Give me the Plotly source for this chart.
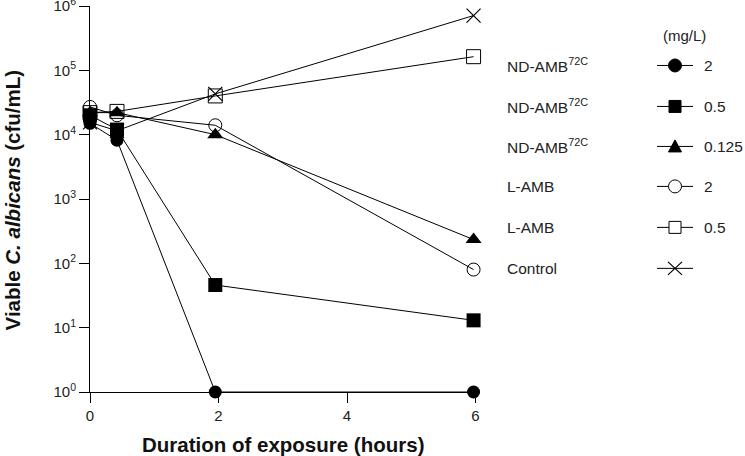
import plotly.graph_objects as go

# ---------------- data ----------------
times = [0, 0.42, 1.95, 5.97]
nd_2 = [1.5e4, 8.2e3, 1, 1]
nd_05 = [2.0e4, 1.2e4, 46, 13]
nd_0125 = [2.2e4, 2.2e4, 1.0e4, 234]
lamb_2 = [2.7e4, 2.0e4, 1.4e4, 80]
lamb_05 = [2.2e4, 2.3e4, 4.0e4, 1.63e5]
control = [1.55e4, 1.15e4, 4.3e4, 7.1e5]

legend_names = ["ND-AMB<sup>72C</sup>", "ND-AMB<sup>72C</sup>", "ND-AMB<sup>72C</sup>",
                "L-AMB", "L-AMB", "Control"]
legend_doses = ["2", "0.5", "0.125", "2", "0.5", ""]

ytick_vals = [1, 10, 100, 1e3, 1e4, 1e5, 1e6]
ytick_text = ["10<sup>0</sup>", "10<sup>1</sup>", "10<sup>2</sup>", "10<sup>3</sup>",
              "10<sup>4</sup>", "10<sup>5</sup>", "10<sup>6</sup>"]
xtick_vals = [0, 2, 4, 6]

# ---------------- figure ----------------
W, H = 745, 456
L, R, T, B = 90, 265, 5.5, 64.3
FONT = "Liberation Sans, Arial, sans-serif"

series = [
    (control, dict(symbol="x-thin", size=14, line=dict(width=1.2, color="black"))),
    (lamb_05, dict(symbol="square-open", size=14, line=dict(width=1, color="black"))),
    (lamb_2, dict(symbol="circle-open", size=13, line=dict(width=1, color="black"))),
    (nd_0125, dict(symbol="triangle-up", size=14, line=dict(width=0))),
    (nd_05, dict(symbol="square", size=14, line=dict(width=0))),
    (nd_2, dict(symbol="circle", size=13, line=dict(width=0))),
]

fig = go.Figure()
for vals, mk in series:
    m = dict(color="black")
    m.update(mk)
    fig.add_trace(go.Scatter(x=times, y=vals, mode="lines+markers",
                             line=dict(color="black", width=1),
                             marker=m, cliponaxis=False, showlegend=False))

fig.update_layout(
    template="none",
    width=W, height=H,
    margin=dict(l=L, r=R, t=T, b=B, autoexpand=False),
    paper_bgcolor="white", plot_bgcolor="white",
    font=dict(family=FONT, size=14, color="#222"),
    xaxis=dict(range=[0, 6.07], tickvals=xtick_vals, showgrid=False, zeroline=False,
               automargin=False, ticklabeloverflow="allow",
               showline=True, linecolor="black", linewidth=1,
               ticks="outside", ticklen=10, tickcolor="black", tickwidth=1,
               tickfont=dict(size=15, family=FONT, color="#222")),
    yaxis=dict(type="log", range=[0, 6], tickvals=ytick_vals, ticktext=ytick_text,
               automargin=False, ticklabeloverflow="allow",
               showgrid=False, zeroline=False, showline=True, linecolor="black",
               linewidth=1, ticks="outside", ticklen=10, tickcolor="black", tickwidth=1,
               tickfont=dict(size=15, family=FONT, color="#222")),
)

pw = W - L - R
ph = H - T - B


def px(x):
    return (x - L) / pw


def py(y):
    return (H - B - y) / ph


annotations = [
    dict(text="<b>Duration of exposure (hours)</b>", x=px(283), y=py(444),
         xref="paper", yref="paper", showarrow=False, font=dict(size=20.5, family=FONT, color="#111"),
         xanchor="center", yanchor="middle"),
    dict(text="<b>Viable <i>C. albicans</i> (cfu/mL)</b>", x=px(12), y=py(200),
         xref="paper", yref="paper", showarrow=False, textangle=-90,
         font=dict(size=20.5, family=FONT, color="#111"), xanchor="center", yanchor="middle"),
    dict(text="(mg/L)", x=px(684), y=py(35), xref="paper", yref="paper", showarrow=False,
         font=dict(size=15, family=FONT, color="#222"), xanchor="center", yanchor="middle"),
]

rows_y = [65, 106, 146, 186, 227, 268]
shapes = []
cx = 675
for i, (name, dose, yy) in enumerate(zip(legend_names, legend_doses, rows_y)):
    annotations.append(dict(text=name, x=px(505), y=py(yy), xref="paper", yref="paper",
                            showarrow=False, xanchor="left", yanchor="middle",
                            font=dict(size=15.5, family=FONT, color="#222")))
    if dose:
        annotations.append(dict(text=dose, x=px(702), y=py(yy), xref="paper", yref="paper",
                                showarrow=False, xanchor="left", yanchor="middle",
                                font=dict(size=15.5, family=FONT, color="#222")))
    shapes.append(dict(type="line", xref="paper", yref="paper", x0=px(657), x1=px(693),
                       y0=py(yy), y1=py(yy), line=dict(color="black", width=1)))

# legend sample markers
r = 6.5
shapes.append(dict(type="circle", xref="paper", yref="paper", x0=px(cx - r), x1=px(cx + r),
                   y0=py(rows_y[0] - r), y1=py(rows_y[0] + r), fillcolor="black",
                   line=dict(color="black", width=1)))
s = 6
shapes.append(dict(type="rect", xref="paper", yref="paper", x0=px(cx - s), x1=px(cx + s),
                   y0=py(rows_y[1] - s), y1=py(rows_y[1] + s), fillcolor="black",
                   line=dict(color="black", width=1)))
yt = rows_y[2]
shapes.append(dict(type="path", xref="paper", yref="paper",
                   path=f"M {px(cx-6.5)} {py(yt+5.5)} L {px(cx+6.5)} {py(yt+5.5)} L {px(cx)} {py(yt-6.5)} Z",
                   fillcolor="black", line=dict(color="black", width=1)))
shapes.append(dict(type="circle", xref="paper", yref="paper", x0=px(cx - r), x1=px(cx + r),
                   y0=py(rows_y[3] - r), y1=py(rows_y[3] + r), fillcolor="white",
                   line=dict(color="black", width=1)))
shapes.append(dict(type="rect", xref="paper", yref="paper", x0=px(cx - s), x1=px(cx + s),
                   y0=py(rows_y[4] - s), y1=py(rows_y[4] + s), fillcolor="white",
                   line=dict(color="black", width=1)))
yx = rows_y[5]
shapes.append(dict(type="path", xref="paper", yref="paper",
                   path=(f"M {px(cx-7)} {py(yx-6.5)} L {px(cx+7)} {py(yx+6.5)} "
                         f"M {px(cx-7)} {py(yx+6.5)} L {px(cx+7)} {py(yx-6.5)}"),
                   line=dict(color="black", width=1.2)))

fig.update_layout(annotations=annotations, shapes=shapes)
fig.write_html("out.html", config={"displayModeBar": False},
               post_script="document.body.style.margin='0px';document.body.style.overflow='hidden';")
